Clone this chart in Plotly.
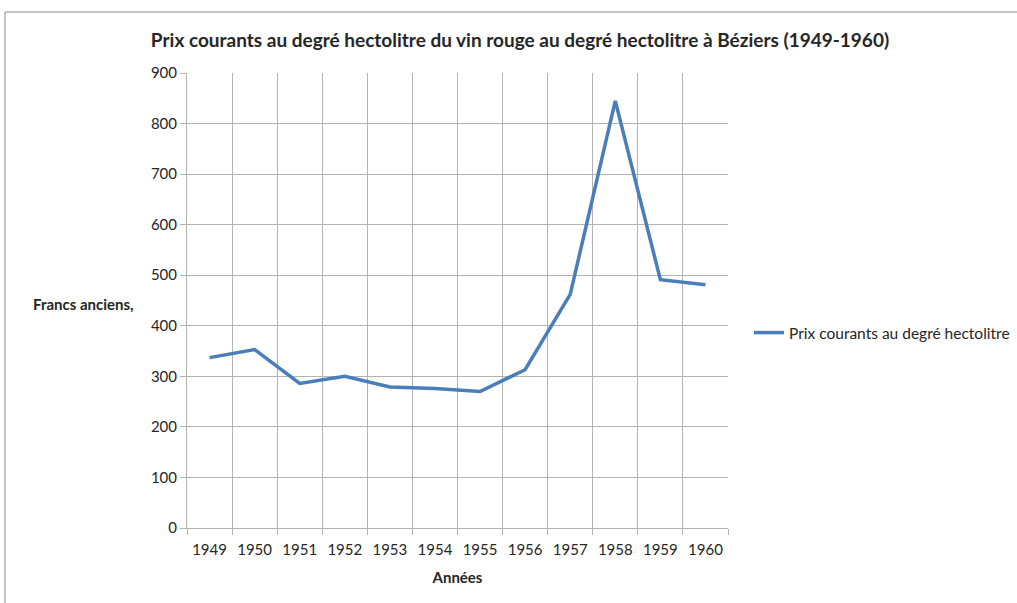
import plotly.graph_objects as go

years = ["1949", "1950", "1951", "1952", "1953", "1954", "1955", "1956", "1957", "1958", "1959", "1960"]
prix = [337, 353, 286, 300, 279, 276, 270, 313, 462, 845, 491, 481]
series_name = "Prix courants au degré hectolitre"
title = "Prix courants au degré hectolitre du vin rouge au degré hectolitre à Béziers (1949-1960)"

FONT = "Lato"
W, H = 1017, 603
L, R, T, B = 187, 1017 - 728, 73, 603 - 528
pw, ph = W - L - R, H - T - B

def px(x):
    return (x - L) / pw

def py(y):
    return (H - B - y) / ph

fig = go.Figure()
fig.add_trace(go.Scatter(
    x=years, y=prix, mode="lines", name=series_name,
    line=dict(color="#4a7ebb", width=3.5),
))

grid = "#b3b3b3"
fig.update_layout(
    width=W, height=H,
    margin=dict(l=L, r=R, t=T, b=B, autoexpand=False),
    paper_bgcolor="white", plot_bgcolor="white",
    font=dict(family=FONT, size=15, color="#262626"),
    title=dict(text="<b>" + title + "</b>", xref="container", x=520 / W, xanchor="center",
               yref="container", y=1 - 40 / H, yanchor="middle",
               font=dict(size=19, color="#262626")),
    showlegend=True,
    legend=dict(x=px(749), xanchor="left", y=py(333), yanchor="middle",
                font=dict(size=15.5), bgcolor="rgba(0,0,0,0)"),
    xaxis=dict(type="category", tickson="boundaries", range=[-0.5, len(years) - 0.5],
               showgrid=True, gridcolor=grid, automargin=False, tickangle=0,
               gridwidth=1, showline=True, linecolor=grid, ticks="outside",
               ticklen=6, tickcolor=grid, tickfont=dict(size=15), ticklabelstandoff=8,
               title=dict(text="<b>Années</b>", font=dict(size=15), standoff=15)),
    yaxis=dict(range=[0, 900], dtick=100, showgrid=True, gridcolor=grid, gridwidth=1,
               showline=True, linecolor=grid, ticks="outside", ticklen=6, automargin=False,
               tickcolor=grid, tickfont=dict(size=15), zeroline=False),
    annotations=[dict(text="<b>Francs anciens,</b>", xref="paper", yref="paper",
                      x=px(83), y=py(304), xanchor="center", yanchor="middle",
                      showarrow=False, font=dict(size=15))],
    shapes=[
        dict(type="line", xref="paper", yref="paper", x0=px(5), x1=px(1017),
             y0=py(12), y1=py(12), line=dict(color="#8c8c8c", width=1)),
        dict(type="line", xref="paper", yref="paper", x0=px(5), x1=px(5),
             y0=py(12), y1=py(603), line=dict(color="#8c8c8c", width=1)),
    ],
)

fig.write_html("out.html", config={"displayModeBar": False},
               post_script="document.body.style.margin='0';document.body.style.overflow='hidden';")
